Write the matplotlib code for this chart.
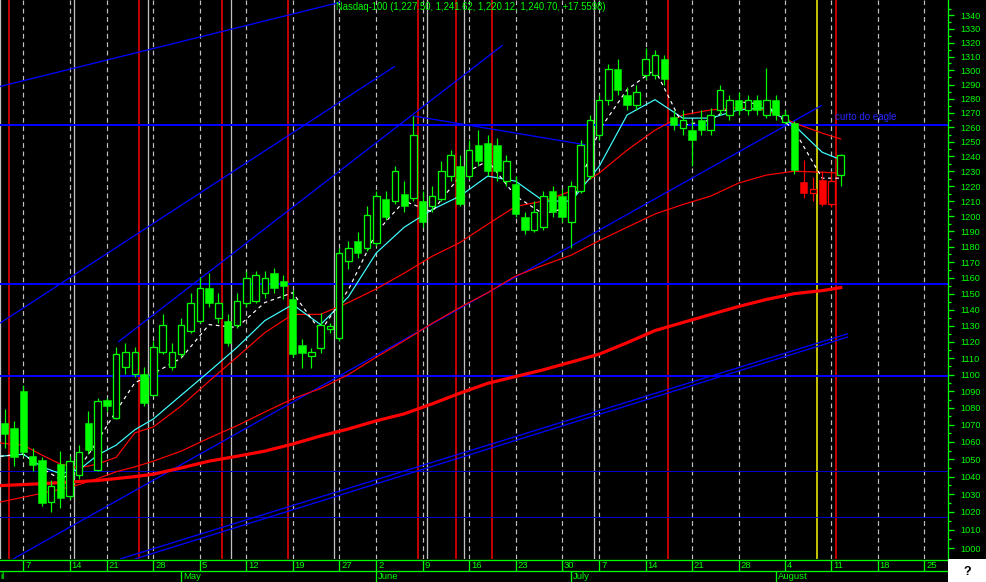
import matplotlib
matplotlib.use('Agg')
import matplotlib.pyplot as plt
from matplotlib.ticker import FixedLocator, NullFormatter

# ---------------- data ----------------
# trading-day index: 0 = Mon 7 Apr 2003
day_tick_idx = [0, 5, 9, 14, 19, 24, 29, 34, 38, 43, 48, 53, 58, 62, 67, 72, 77, 82, 87, 92, 97]
day_tick_lbl = ['7', '14', '21', '28', '5', '12', '19', '27', '2', '9', '16', '23', '30',
                '7', '14', '21', '28', '4', '11', '18', '25']
month_idx = [-2.48, 17, 38, 59, 81]
month_lbl = ['il', 'May', 'June', 'July', 'August']

cdl_idx = list(range(-2, 89))
opens = [1071.2, 1068.2, 1090.0, 1051.7, 1049.4, 1025.6, 1047.2, 1028.9, 1041.1, 1071.2,
         1043.9, 1084.7, 1074.1, 1104.7, 1100.6, 1100.6, 1087.6, 1113.5, 1104.7, 1112.4,
         1126.9, 1133.1, 1153.8, 1135.0, 1133.1, 1130.6, 1144.4, 1145.6, 1150.6, 1163.1,
         1158.1, 1146.3, 1118.2, 1111.2, 1115.9, 1128.0, 1122.5, 1170.6, 1184.0, 1179.3,
         1182.7, 1211.3, 1210.0, 1214.7, 1212.0, 1210.0, 1206.4, 1211.3, 1226.7, 1233.3,
         1226.7, 1247.9, 1249.3, 1247.9, 1223.3, 1221.3, 1199.3, 1190.7, 1192.7, 1216.7,
         1213.3, 1196.0, 1216.7, 1226.7, 1254.7, 1279.3, 1300.7, 1282.9, 1275.7, 1297.1,
         1297.1, 1307.9, 1267.1, 1259.3, 1258.0, 1265.0, 1258.0, 1272.1, 1268.6, 1279.3,
         1272.1, 1279.3, 1268.6, 1279.3, 1264.0, 1263.3, 1222.7, 1215.3, 1224.0, 1208.0,
         1227.5]
highs = [1079.4, 1072.4, 1093.5, 1056.5, 1051.1, 1038.3, 1054.7, 1051.7, 1058.2, 1078.2,
         1085.9, 1085.9, 1116.5, 1119.4, 1116.5, 1104.7, 1120.6, 1136.9, 1119.4, 1135.0,
         1150.6, 1160.6, 1163.1, 1150.6, 1136.9, 1150.6, 1164.4, 1164.4, 1164.4, 1166.2,
         1161.9, 1152.5, 1121.9, 1115.9, 1138.1, 1131.9, 1179.3, 1184.0, 1189.3, 1206.4,
         1216.7, 1216.7, 1233.3, 1223.3, 1267.9, 1216.7, 1220.0, 1236.7, 1244.3, 1240.7,
         1251.3, 1258.0, 1254.7, 1252.7, 1240.7, 1226.7, 1202.9, 1210.0, 1216.7, 1220.0,
         1218.0, 1223.3, 1251.3, 1268.6, 1282.9, 1304.3, 1307.9, 1287.9, 1290.0, 1316.4,
         1315.0, 1311.4, 1272.1, 1272.1, 1265.0, 1272.1, 1273.6, 1290.0, 1282.9, 1285.0,
         1282.9, 1282.9, 1302.1, 1282.9, 1272.0, 1264.5, 1237.8, 1226.0, 1230.0, 1230.0,
         1241.62]
lows = [1056.5, 1046.1, 1051.7, 1043.3, 1023.3, 1020.0, 1022.2, 1027.2, 1038.9, 1052.9,
        1043.3, 1078.2, 1073.5, 1100.6, 1098.8, 1081.2, 1087.0, 1112.4, 1102.9, 1110.6,
        1125.6, 1131.9, 1141.3, 1131.9, 1117.6, 1128.8, 1141.3, 1144.4, 1147.5, 1150.6,
        1146.3, 1110.6, 1104.0, 1104.1, 1113.0, 1125.6, 1120.6, 1165.9, 1172.5, 1177.3,
        1180.7, 1197.3, 1208.0, 1202.9, 1210.0, 1192.7, 1202.9, 1210.0, 1223.3, 1206.4,
        1224.7, 1233.3, 1226.7, 1223.3, 1220.0, 1199.3, 1188.0, 1189.3, 1190.7, 1199.3,
        1196.0, 1179.4, 1215.3, 1224.7, 1251.3, 1275.7, 1282.9, 1272.1, 1272.1, 1293.6,
        1293.6, 1290.0, 1258.0, 1254.7, 1233.3, 1254.7, 1254.7, 1268.6, 1265.0, 1268.6,
        1268.6, 1268.6, 1266.4, 1265.0, 1262.0, 1228.0, 1212.0, 1210.0, 1206.4, 1206.0,
        1220.12]
closes = [1064.7, 1051.1, 1054.1, 1046.7, 1025.0, 1034.4, 1027.8, 1048.9, 1054.1, 1055.3,
          1084.1, 1081.2, 1112.4, 1113.5, 1113.5, 1082.9, 1116.5, 1130.6, 1113.5, 1130.6,
          1144.4, 1153.8, 1144.4, 1144.4, 1119.4, 1145.6, 1160.0, 1161.9, 1160.0, 1153.8,
          1155.0, 1112.4, 1113.0, 1113.5, 1130.6, 1130.0, 1176.0, 1179.3, 1176.0, 1200.7,
          1213.3, 1199.3, 1230.0, 1206.4, 1254.7, 1196.0, 1213.3, 1230.0, 1240.7, 1208.0,
          1244.3, 1237.1, 1230.0, 1230.0, 1237.1, 1201.4, 1190.7, 1202.9, 1213.3, 1202.9,
          1199.3, 1220.0, 1247.9, 1265.0, 1279.3, 1300.7, 1286.4, 1275.7, 1285.0, 1307.9,
          1311.4, 1293.6, 1261.4, 1265.0, 1251.3, 1258.0, 1268.6, 1286.4, 1279.3, 1272.1,
          1279.3, 1272.1, 1279.3, 1268.6, 1268.6, 1230.7, 1215.3, 1218.0, 1208.0, 1223.14,
          1240.70]
cdl_color = ['g'] * 86 + ['r', 'r', 'r', 'r', 'g']

# indicator lines, sampled by trading-day index
ma_idx = [-2.5, 0, 2, 4, 6, 8, 10, 12, 14, 17, 20, 23, 26, 29, 32, 35, 38, 41, 44, 47,
          50, 53, 56, 59, 62, 65, 68, 71, 74, 77, 80, 83, 86, 88]
ma_slow = [1034.9, 1035.5, 1036.0, 1036.6, 1037.2, 1037.8, 1038.9, 1040.0, 1041.4, 1045.0,
           1048.9, 1051.7, 1054.7, 1058.8, 1063.5, 1067.6, 1072.4, 1076.5, 1082.4, 1088.8,
           1094.7, 1098.8, 1102.9, 1107.6, 1112.4, 1119.4, 1126.9, 1131.9, 1136.9, 1141.9,
           1146.3, 1150.0, 1151.9, 1153.8]
ma_mid = [1059.4, 1058.2, 1052.4, 1047.2, 1045.0, 1047.2, 1051.1, 1065.3, 1068.8, 1081.2,
          1096.0, 1110.6, 1125.6, 1136.9, 1137.0, 1144.4, 1153.0, 1163.0, 1173.8, 1182.7,
          1194.7, 1206.4, 1210.0, 1216.7, 1228.7, 1244.3, 1258.0, 1268.6, 1272.1, 1273.6,
          1272.1, 1263.0, 1256.0, 1252.0]
ma_low = [1025.6, 1028.3, 1030.6, 1032.8, 1035.5, 1038.9, 1042.8, 1045.6, 1048.9, 1054.7,
          1062.3, 1069.5, 1077.6, 1085.4, 1091.6, 1100.0, 1110.6, 1120.6, 1131.3, 1141.3,
          1150.6, 1161.2, 1168.1, 1174.6, 1184.0, 1192.7, 1201.4, 1207.7, 1213.3, 1222.0,
          1227.4, 1230.0, 1229.3, 1228.7]
ma_cyan = [1051.7, 1052.9, 1045.6, 1041.7, 1043.9, 1052.4, 1058.2, 1067.1, 1073.5, 1087.6,
           1101.8, 1116.5, 1133.1, 1143.1, 1130.6, 1148.0, 1176.0, 1192.7, 1204.3, 1213.3,
           1226.7, 1223.3, 1210.0, 1210.0, 1233.3, 1268.6, 1279.3, 1266.4, 1266.4, 1272.1,
           1273.6, 1261.4, 1242.9, 1237.8]
ma_white = [1051.7, 1053.0, 1044.9, 1038.3, 1044.9, 1060.6, 1078.2, 1095.0, 1100.6, 1110.0,
            1130.6, 1128.8, 1144.4, 1150.6, 1126.5, 1152.5, 1189.3, 1210.0, 1202.9, 1226.7,
            1237.1, 1213.3, 1201.4, 1206.4, 1258.0, 1286.4, 1300.7, 1261.4, 1265.0, 1277.9,
            1275.7, 1258.0, 1225.3, 1225.3]

# horizontal levels
hlevels_bright = [1261.4, 1156.0, 1099.0]
hlevels_dark = [1043.2, 1017.2]

# trend lines: (idx1, price1, idx2, price2)
trendlines = [
    (-2.51, 1288.6, 34.1, 1349.6),
    (-2.51, 1131.5, 40.0, 1303.0),
    (10.2, 1119.8, 51.6, 1318.2),
    (-1.11, 994.0, 85.98, 1275.4),
    (10.4, 994.0, 88.8, 1125.0),
    (12.0, 994.0, 88.8, 1123.0),
    (42.0, 1267.9, 60.5, 1248.0),
]

# vertical marker lines (between bars)
v_dashed = day_tick_idx
v_white = [-2.5, 5.46, 13.46, 22.36, 33.48, 43.46, 47.45, 61.47]
v_red = [-1.5, 12.49, 21.42, 28.53, 42.52, 46.53, 50.51, 69.44, 87.52]
v_yellow = [85.48]

legend_txt = 'Nasdaq-100 (1,227.50, 1,241.62, 1,220.12, 1,240.70, +17.5598)'
note_txt = 'curto do eagle'

# ---------------- drawing ----------------
W, H = 986, 582
GREEN = '#00ff00'
RED = '#ff0000'
BLUE = '#0000ff'
GREY = '#c0c0c0'
PX = 0.72  # one pixel in points

plt.rcParams['font.family'] = ['Liberation Sans', 'DejaVu Sans']
fig = plt.figure(figsize=(W / 100, H / 100), dpi=100, facecolor='black')
ax = fig.add_axes([0, 23 / H, 948 / W, 559 / H])
ax.set_facecolor('black')
ax.set_yscale('log')
ax.set_xlim(-2.51, 99.55)
ax.set_ylim(994.0, 1351.3)

for s in ['top', 'left', 'bottom']:
    ax.spines[s].set_visible(False)
ax.spines['right'].set_color(GREEN)
ax.spines['right'].set_linewidth(1.3 * PX)
ax.set_xticks([])
ax.yaxis.tick_right()
majors = list(range(1000, 1341, 10))
minors = list(range(1005, 1351, 10))
ax.yaxis.set_major_locator(FixedLocator(majors))
ax.yaxis.set_minor_locator(FixedLocator(minors))
ax.set_yticklabels([str(v) for v in majors])
ax.yaxis.set_minor_formatter(NullFormatter())
ax.tick_params(axis='y', which='major', direction='out', length=6 * PX, width=1.3 * PX,
               color=GREEN, labelcolor=GREEN, labelsize=6.6, pad=6 * PX)
ax.tick_params(axis='y', which='minor', direction='out', length=3 * PX, width=1.3 * PX,
               color=GREEN)

# vertical lines
for v in v_dashed:
    ax.axvline(v, color=GREY, lw=1.2 * PX, ls=(0, (4, 3)), zorder=1)
for v in v_white:
    ax.axvline(v, color=GREY, lw=1.3 * PX, zorder=1)
for v in v_red:
    ax.axvline(v, color=RED, lw=1.5 * PX, zorder=1)
for v in v_yellow:
    ax.axvline(v, color='#ffff00', lw=1.5 * PX, zorder=1)

# horizontal levels
for h in hlevels_bright:
    ax.axhline(h, color=BLUE, lw=2 * PX, zorder=2)
for h in hlevels_dark:
    ax.axhline(h, color='#0000c8', lw=1 * PX, zorder=2)

# trend lines
for (i1, p1, i2, p2) in trendlines:
    ax.plot([i1, i2], [p1, p2], color=BLUE, lw=1.3 * PX, zorder=2, solid_capstyle='butt')

# moving averages
ax.plot(ma_idx, ma_slow, color=RED, lw=3.2 * PX, zorder=3)
ax.plot(ma_idx, ma_low, color=RED, lw=1.2 * PX, zorder=3)
ax.plot(ma_idx, ma_mid, color=RED, lw=1.2 * PX, zorder=3)
ax.plot(ma_idx, ma_cyan, color='#40ffff', lw=1.2 * PX, zorder=3)
ax.plot(ma_idx, ma_white, color='white', lw=1.2 * PX, ls=(0, (3, 3)), zorder=3)

# candles
bw = 0.78
for i, o, h, l, c, col in zip(cdl_idx, opens, highs, lows, closes, cdl_color):
    cc = GREEN if col == 'g' else RED
    ax.vlines(i, l, h, color=cc, lw=1.2 * PX, zorder=4)
    lo, hi = min(o, c), max(o, c)
    if c >= o:
        ax.bar(i, hi - lo, bottom=lo, width=bw * 0.9, facecolor='black', edgecolor=cc,
               linewidth=1.3 * PX, zorder=5)
    else:
        ax.bar(i, hi - lo, bottom=lo, width=bw, facecolor=cc, edgecolor=cc,
               linewidth=0.5 * PX, zorder=5)

# texts
ax.text(336 / 948, 1 - 7 / 559, legend_txt, transform=ax.transAxes, color=GREEN,
        fontsize=6.85, va='center', ha='left', zorder=6)
ax.text(835 / 948, 1 - 117 / 559, note_txt, transform=ax.transAxes, color='#2828ff',
        fontsize=7, va='center', ha='left', zorder=6)

# date band
dax = fig.add_axes([0, 0, 948 / W, 23 / H])
dax.set_facecolor('black')
dax.set_xlim(-2.51, 99.55)
dax.set_ylim(0, 23)
dax.axis('off')
dax.axhline(22.5, color=GREEN, lw=1.3 * PX)
dax.axhline(11.3, color=GREEN, lw=1.3 * PX)
for i, lbl in zip(day_tick_idx, day_tick_lbl):
    dax.vlines(i, 11.3, 22.5, color=GREEN, lw=1.3 * PX)
    dax.text(i + 0.2, 16.8, lbl, color=GREEN, fontsize=6.8, va='center', ha='left')
for i, lbl in zip(month_idx, month_lbl):
    if lbl != 'il':
        dax.vlines(i, 0, 11.3, color=GREEN, lw=1.3 * PX)
        dax.text(i + 0.2, 5.2, lbl, color=GREEN, fontsize=6.8, va='center', ha='left')
    else:
        dax.text(i, 5.2, lbl, color=GREEN, fontsize=6.8, va='center', ha='left')

# corner box
cax = fig.add_axes([948 / W, 0, 38 / W, 23 / H])
cax.set_facecolor('white')
cax.set_xticks([])
cax.set_yticks([])
for s in cax.spines.values():
    s.set_visible(False)
cax.text(0.5, 0.45, '?', color='black', fontsize=9, fontweight='bold', ha='center', va='center',
         transform=cax.transAxes)

fig.savefig('out.png', dpi=100, facecolor='black')
